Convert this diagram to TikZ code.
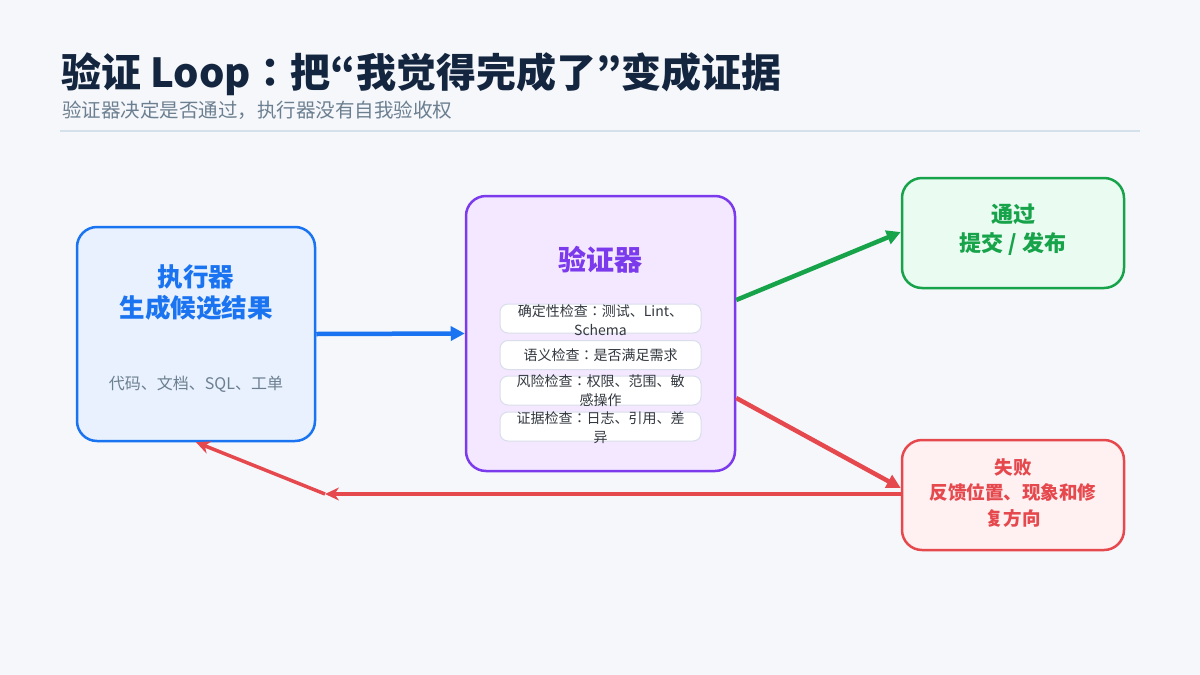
\documentclass[tikz,border=0pt]{standalone}
\usepackage{fontspec}
\setmainfont{Noto Sans CJK JP}
\usetikzlibrary{arrows.meta}
\definecolor{bgc}{HTML}{F5F7FB}
\definecolor{titlec}{HTML}{14263F}
\definecolor{subc}{HTML}{6C7F90}
\definecolor{rulec}{HTML}{D5E1EA}
\definecolor{blueC}{HTML}{1A73F0}
\definecolor{blueF}{HTML}{E8F1FD}
\definecolor{purpC}{HTML}{7C3AED}
\definecolor{purpF}{HTML}{F3E8FF}
\definecolor{greenC}{HTML}{16A34A}
\definecolor{greenF}{HTML}{EAFBF1}
\definecolor{redC}{HTML}{E5484D}
\definecolor{redF}{HTML}{FFF0F1}
\definecolor{chkB}{HTML}{D9DEEA}
\definecolor{chkT}{HTML}{333840}
\tikzset{
  bigbox/.style={draw, line width=2.5pt, rounded corners=20pt, inner sep=0pt},
  chkbox/.style={draw=chkB, fill=white, line width=1pt, rounded corners=8pt, minimum width=201pt, minimum height=29pt, inner sep=0pt},
  chktext/.style={text=chkT, align=center, font=\fontsize{14}{19}\selectfont, inner sep=0pt},
  flow/.style={line width=4.5pt, -{Triangle[length=14pt,width=14pt]}},
  back/.style={line width=3.5pt, draw=redC, -{Stealth[length=14pt,width=13pt]}},
}
\begin{document}
\begin{tikzpicture}[x=1pt,y=-1pt]
\useasboundingbox (0,0) rectangle (1200,675);
\fill[bgc] (0,0) rectangle (1200,675);
% title
\node[anchor=base west, inner sep=0pt, text=titlec, font=\fontsize{40}{44}\selectfont\bfseries] (title) at (61,87) {验证 Loop：把“我觉得完成了”变成证据};
\node[anchor=base west, inner sep=0pt, text=subc, font=\fontsize{19.5}{22}\selectfont] (subtitle) at (62,117) {验证器决定是否通过，执行器没有自我验收权};
\draw[rulec, line width=2pt] (60,131) -- (1140,131);
% executor
\node[bigbox, draw=blueC, fill=blueF, minimum width=238pt, minimum height=214pt] (exec) at (196,334) {};
\node[text=blueC, align=center, font=\fontsize{25.5}{31}\selectfont\bfseries, inner sep=0pt] (exect) at (196,292) {执行器\\生成候选结果};
\node[text=subc, font=\fontsize{16}{20}\selectfont, inner sep=0pt] (execs) at (196,384) {代码、文档、SQL、工单};
% verifier
\node[bigbox, draw=purpC, fill=purpF, minimum width=269pt, minimum height=275pt] (ver) at (600.5,333.5) {};
\node[text=purpC, font=\fontsize{28}{32}\selectfont\bfseries, inner sep=0pt] (vert) at (600,260) {验证器};
\node[chkbox] (c1) at (600.5,318.5) {};
\node[chktext] (c1t) at (600.5,320) {确定性检查：测试、Lint、\\Schema};
\node[chkbox] (c2) at (600.5,355) {};
\node[chktext] (c2t) at (600.5,355) {语义检查：是否满足需求};
\node[chkbox] (c3) at (600.5,390.5) {};
\node[chktext] (c3t) at (600.5,391) {风险检查：权限、范围、敏\\感操作};
\node[chkbox] (c4) at (600.5,426.5) {};
\node[chktext] (c4t) at (600.5,427.5) {证据检查：日志、引用、差\\异};
% pass
\node[bigbox, draw=greenC, fill=greenF, minimum width=222pt, minimum height=110pt] (pass) at (1013,233) {};
\node[text=greenC, align=center, font=\fontsize{22}{29}\selectfont\bfseries, inner sep=0pt] (passt) at (1013,230) {通过\\提交 / 发布};
% fail
\node[bigbox, draw=redC, fill=redF, minimum width=222pt, minimum height=110pt] (fail) at (1013,495) {};
\node[text=redC, align=center, font=\fontsize{18.5}{25.5}\selectfont\bfseries, inner sep=0pt] (failt) at (1013,493) {失败\\反馈位置、现象和修\\复方向};
% connectors
\coordinate (turn) at (325,494);
\draw[flow, draw=blueC, blueC] (exec.east) -- (ver.west);
\draw[flow, draw=greenC, greenC] ([yshift=33.5pt]ver.east) -- ([yshift=1pt]pass.west);
\draw[flow, draw=redC, redC] ([yshift=-64.5pt]ver.east) -- ([yshift=7pt]fail.west);
\draw[back, redC] ([yshift=1pt]fail.west) -- (turn);
\draw[back, redC] (turn) -- (exec.south);
\end{tikzpicture}
\end{document}
